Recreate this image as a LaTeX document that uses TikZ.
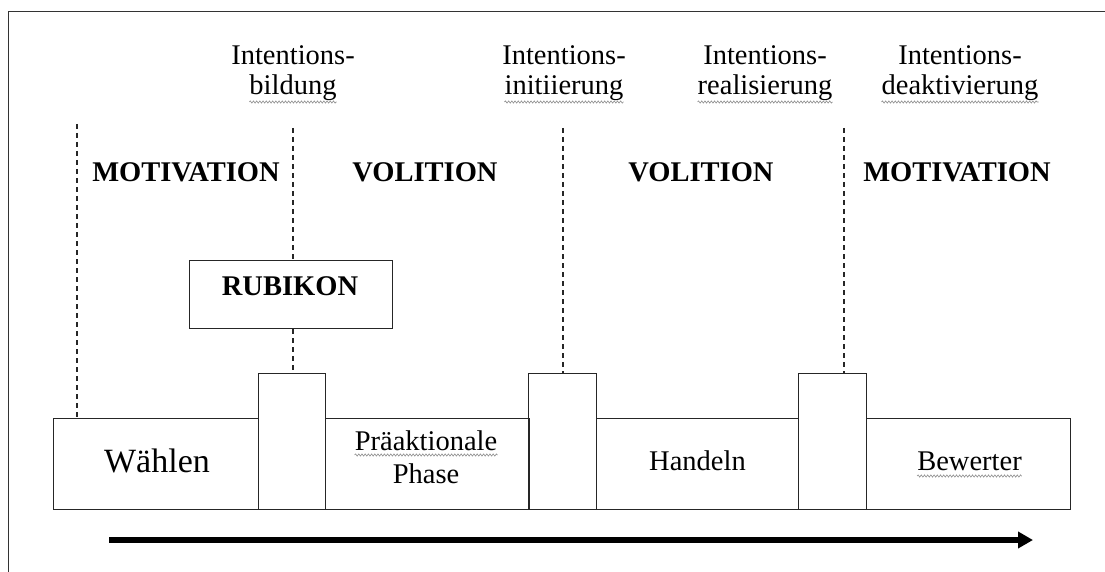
\documentclass[tikz,border=0pt]{standalone}
\usepackage{fontspec}
\setmainfont{Liberation Serif}
\usetikzlibrary{arrows.meta,decorations.pathmorphing}

\tikzset{
  lbl/.style={font=\fontsize{28.5}{30}\selectfont, inner sep=0pt, align=center},
  boxtxt/.style={font=\fontsize{28.5}{33}\selectfont, inner sep=0pt, align=center},
  head/.style={font=\fontsize{28.5}{30}\selectfont\bfseries, inner sep=0pt},
  phase/.style={draw=black!85, line width=1.3pt, inner sep=0pt, anchor=north west},
  dashline/.style={draw=black!85, line width=1.2pt, dash pattern=on 5pt off 4pt},
  squiggle/.style={draw=black!45, line width=0.6pt,
    decorate, decoration={snake, segment length=3.2pt, amplitude=1.1pt}},
  frameline/.style={draw=black!80, line width=1.5pt},
  timeline/.style={draw=black, line width=6pt,
    -{Triangle[length=15pt,width=16pt]}},
}

\begin{document}
\begin{tikzpicture}[x=1pt,y=-1pt]
\useasboundingbox (0,0) rectangle (1105,572);
\clip (0,0) rectangle (1105,572);

% outer frame (only left and top edges fall inside the page)
\coordinate (fbl) at (8.5,600);
\coordinate (ftl) at (8.5,11.5);
\coordinate (ftr) at (1120,11.5);
\draw[frameline] (fbl) -- (ftl) -- (ftr);

% phase boxes along the bottom
\node[phase, minimum width=205pt, minimum height=91pt] (waehlen) at (53,418) {};
\node[phase, minimum width=204pt, minimum height=91pt] (praeakt) at (324.5,418) {};
\node[phase, minimum width=202pt, minimum height=91pt] (handeln) at (596,418) {};
\node[phase, minimum width=204pt, minimum height=91pt] (bewerten) at (866,418) {};

% transition blocks between the phases
\node[phase, minimum width=67pt, minimum height=136pt] (t1) at (258,373) {};
\node[phase, minimum width=68pt, minimum height=136pt] (t2) at (528,373) {};
\node[phase, minimum width=68pt, minimum height=136pt] (t3) at (798,373) {};

% Rubikon box
\node[phase, minimum width=203pt, minimum height=68pt] (rubikon) at (189,260) {};
\node[head, anchor=base] (rubikontxt) at (290,295) {RUBIKON};

% texts in the phase boxes
\node[font=\fontsize{34}{36}\selectfont, inner sep=0pt, anchor=base] (waehlentxt) at (157,472) {Wählen};
\node[boxtxt, anchor=base] (praeakttxt1) at (426,450) {Präaktionale};
\node[boxtxt, anchor=base] (praeakttxt2) at (426,483) {Phase};
\node[boxtxt, anchor=base] (handelntxt) at (697.5,470) {Handeln};
\node[boxtxt, anchor=base] (bewertentxt) at (969.5,470) {Bewerter};

% phase headings
\node[head, anchor=base] (mot1) at (186,182) {MOTIVATION};
\node[head, anchor=base] (vol1) at (425,182) {VOLITION};
\node[head, anchor=base] (vol2) at (701,182) {VOLITION};
\node[head, anchor=base] (mot2) at (957,182) {MOTIVATION};

% transition labels
\node[lbl, anchor=base] (ib1) at (293,65) {Intentions-};
\node[lbl, anchor=base] (ib2) at (293,95) {bildung};
\node[lbl, anchor=base] (ii1) at (564,65) {Intentions-};
\node[lbl, anchor=base] (ii2) at (564,95) {initiierung};
\node[lbl, anchor=base] (ir1) at (765,65) {Intentions-};
\node[lbl, anchor=base] (ir2) at (765,95) {realisierung};
\node[lbl, anchor=base] (id1) at (960,65) {Intentions-};
\node[lbl, anchor=base] (id2) at (960,95) {deaktivierung};

% spelling marks under some words
\draw[squiggle] ([yshift=-7pt]ib2.base west) -- ([yshift=-7pt]ib2.base east);
\draw[squiggle] ([yshift=-7pt]ii2.base west) -- ([yshift=-7pt]ii2.base east);
\draw[squiggle] ([yshift=-7pt]ir2.base west) -- ([yshift=-7pt]ir2.base east);
\draw[squiggle] ([yshift=-7pt]id2.base west) -- ([yshift=-7pt]id2.base east);
\draw[squiggle] ([yshift=-5pt]praeakttxt1.base west) -- ([yshift=-5pt]praeakttxt1.base east);
\draw[squiggle] ([yshift=-6pt]bewertentxt.base west) -- ([yshift=-6pt]bewertentxt.base east);

% dashed boundaries
\coordinate (d0) at (77,124);
\coordinate (d1) at (293,128);
\coordinate (d2) at (563,128);
\coordinate (d3) at (844,128);
\draw[dashline] (d0) -- (d0 |- waehlen.north);
\draw[dashline] (d1) -- (d1 |- rubikon.north);
\draw[dashline] (d1 |- rubikon.south) -- (d1 |- t1.north);
\draw[dashline] (d2) -- (d2 |- t2.north);
\draw[dashline] (d3) -- (d3 |- t3.north);

% time arrow
\coordinate (astart) at (109,540);
\coordinate (aend) at (1033,540);
\draw[timeline] (astart) -- (aend);
\end{tikzpicture}
\end{document}
